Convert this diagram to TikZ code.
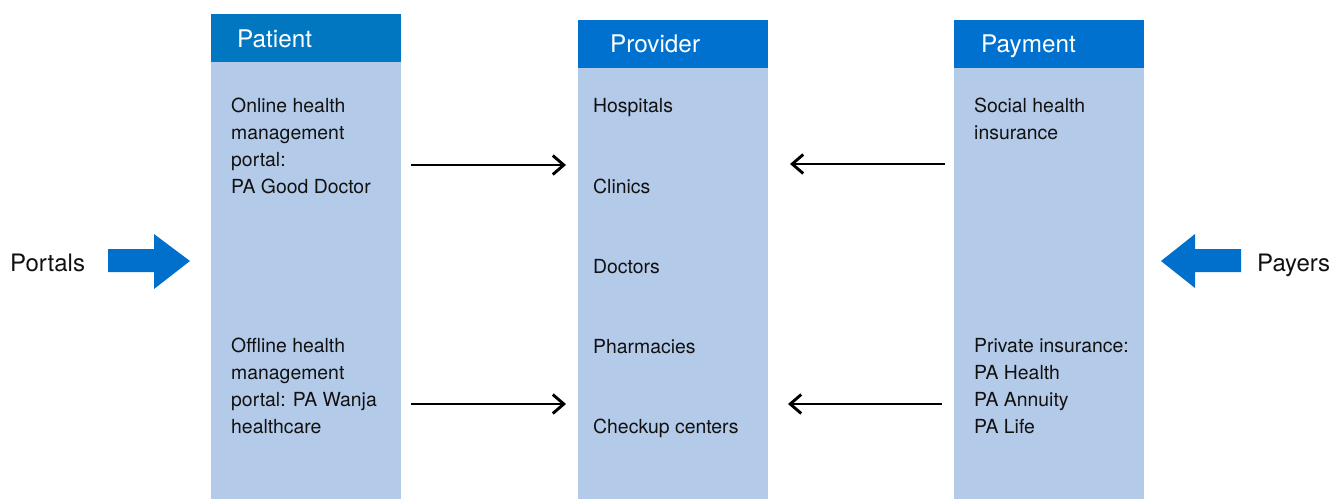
\documentclass[tikz,border=0pt]{standalone}
\usepackage{fontspec}
\setmainfont{TeX Gyre Heros}
\usetikzlibrary{arrows.meta}
\definecolor{hdrA}{HTML}{0077C0}
\definecolor{hdrB}{HTML}{0071CF}
\definecolor{bodyc}{HTML}{B4CAE9}
\definecolor{bigarrow}{HTML}{0070CC}
\definecolor{txt}{HTML}{111111}
\tikzset{
  bodybox/.style={fill=bodyc, draw=none},
  item/.style={anchor=base west, inner sep=0pt, text=txt, font=\fontsize{19.4}{27}\selectfont},
  hdrtext/.style={anchor=base west, inner sep=0pt, text=white, font=\fontsize{24.3}{28}\selectfont},
  sidetext/.style={anchor=base west, inner sep=0pt, text=txt, font=\fontsize{24}{28}\selectfont},
  flow/.style={line width=2.9pt, draw=black, -{Straight Barb[length=11pt,width=19pt,line width=2.9pt]}},
  fat/.style={fill=bigarrow, draw=none}
}
\begin{document}
\begin{tikzpicture}[x=1pt,y=-1pt]
\useasboundingbox (0,0) rectangle (1331,499);
% columns
\fill[bodybox] (211,62) rectangle (401,499);
\fill[hdrA] (211,14) rectangle (401,62);
\fill[bodybox] (578,68) rectangle (768,499);
\fill[hdrB] (578,20) rectangle (768,68);
\fill[bodybox] (954,68) rectangle (1144,499);
\fill[hdrB] (954,20) rectangle (1144,68);
% headers
\node[hdrtext] (hpat) at (237,47) {Patient};
\node[hdrtext] (hpro) at (610,52) {Provider};
\node[hdrtext] (hpay) at (981,52) {Payment};
% patient texts
\node[item] (p1) at (231,112) {Online health};
\node[item] (p2) at (231,139) {management};
\node[item] (p3) at (231,166) {portal:};
\node[item] (p4) at (231,193) {PA Good Doctor};
\node[item] (p5) at (231,352) {Offline health};
\node[item] (p6) at (231,379) {management};
\node[item] (p7) at (231,406) {portal: PA Wanja};
\node[item] (p8) at (231,433) {healthcare};
% provider texts
\node[item] (r1) at (593,112) {Hospitals};
\node[item] (r2) at (593,193) {Clinics};
\node[item] (r3) at (593,273) {Doctors};
\node[item] (r4) at (593,353) {Pharmacies};
\node[item] (r5) at (593,433) {Checkup centers};
% payment texts
\node[item] (y1) at (974,112) {Social health};
\node[item] (y2) at (974,139) {insurance};
\node[item] (y3) at (974,352) {Private insurance:};
\node[item] (y4) at (974,379) {PA Health};
\node[item] (y5) at (974,406) {PA Annuity};
\node[item] (y6) at (974,433) {PA Life};
% side labels
\node[sidetext] (portals) at (10,271) {Portals};
\node[sidetext] (payers) at (1257,271) {Payers};
% connectors
\coordinate (a1s) at (411,165);
\coordinate (a1e) at (566,165);
\coordinate (a2s) at (411,404);
\coordinate (a2e) at (566,404);
\coordinate (b1s) at (945,164);
\coordinate (b1e) at (790,164);
\coordinate (b2s) at (942,404);
\coordinate (b2e) at (788,404);
\draw[flow] (a1s) -- (a1e);
\draw[flow] (a2s) -- (a2e);
\draw[flow] (b1s) -- (b1e);
\draw[flow] (b2s) -- (b2e);
% big arrows
\fill[fat] (108,249) -- (154,249) -- (154,234) -- (190,261) -- (154,289) -- (154,272) -- (108,272) -- cycle;
\fill[fat] (1241,249) -- (1195,249) -- (1195,234) -- (1161,261) -- (1195,288) -- (1195,272) -- (1241,272) -- cycle;
\end{tikzpicture}
\end{document}
